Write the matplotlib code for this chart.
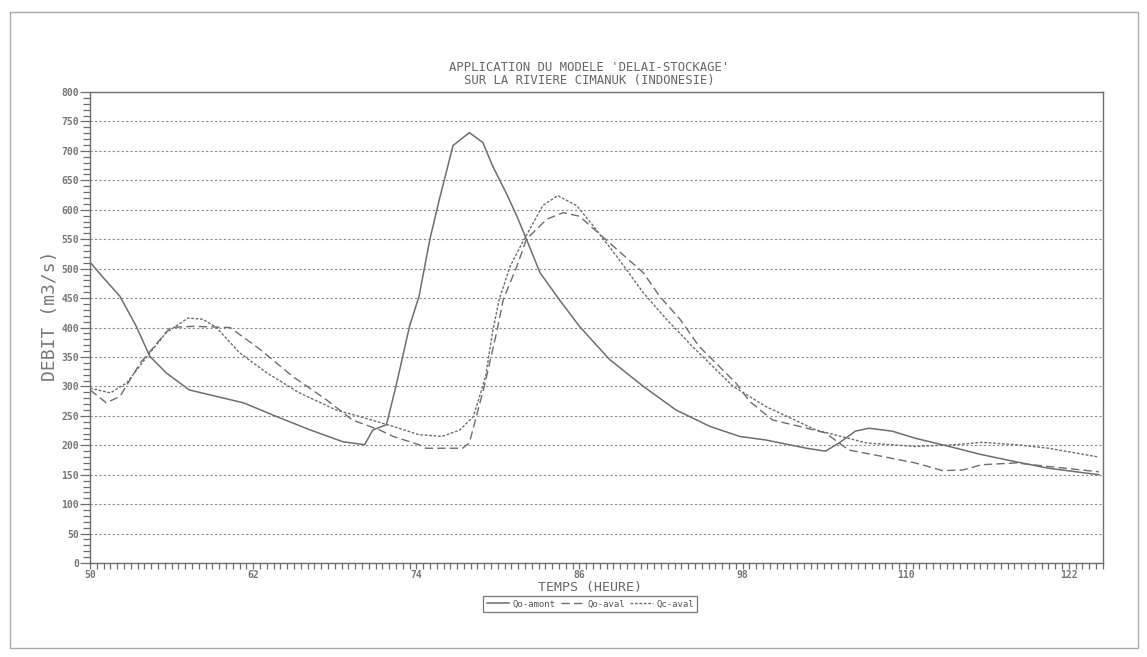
import matplotlib
matplotlib.use('Agg')
import matplotlib.pyplot as plt
from matplotlib.patches import Rectangle
from matplotlib.ticker import MultipleLocator

# heures / debits
heures_amont = [50, 51, 52.2, 53.4, 54.4, 55.6, 57.3, 59.3, 61.3, 63.7, 66.2, 68.6, 70.2, 70.8,
                71.8, 72.5, 73.5, 74.2, 75.0, 75.7, 76.7, 77.9, 78.9, 79.6, 80.6, 81.4, 82.1,
                83.1, 84.5, 86.0, 88.2, 90.7, 93.1, 95.6, 97.8, 99.7, 102.7, 104.1, 105.1,
                106.3, 107.3, 109.0, 110.7, 113.2, 115.6, 118.1, 120.5, 124.2]
qo_amont = [511, 484, 453, 402, 351, 323, 294, 283, 272, 249, 226, 206, 201, 226,
            235, 300, 402, 453, 550, 618, 709, 731, 714, 675, 629, 589, 550,
            493, 448, 402, 346, 300, 260, 232, 215, 209, 195, 190, 204,
            224, 229, 224, 212, 198, 184, 172, 161, 150]

heures_oaval = [50, 51.2, 52.2, 53.7, 55.9, 57.6, 60.3, 62.5, 64.9, 67.4, 69.3, 71.3, 72.3,
                74.2, 74.7, 77.4, 77.9, 79.0, 79.9, 80.4, 81.4, 82.1, 83.6, 84.8, 86.0,
                88.2, 90.7, 91.9, 93.4, 94.8, 97.5, 98.5, 100.2, 102.2, 104.1, 105.8,
                108.3, 110.7, 112.7, 114.2, 115.6, 118.1, 120.5, 124.2]
qo_aval = [294, 272, 283, 340, 400, 402, 400, 363, 317, 277, 243, 226, 215,
           201, 195, 195, 204, 300, 391, 448, 504, 550, 584, 595, 589,
           544, 493, 453, 414, 368, 306, 275, 243, 232, 221, 192,
           181, 170, 157, 158, 167, 170, 164, 155]

heures_caval = [50, 51.5, 52.7, 54.2, 55.6, 57.2, 58.3, 59.3, 61.0, 63.0, 65.4, 68.1, 69.8,
                72.3, 74.2, 75.9, 77.2, 78.2, 79.1, 79.6, 80.1, 80.9, 81.8, 83.3, 84.4,
                85.8, 87.0, 88.9, 90.7, 92.4, 94.3, 97.3, 99.7, 103.4, 107.1, 110.7,
                113.7, 115.6, 118.1, 120.5, 124.2]
qc_aval = [297, 289, 306, 351, 391, 416, 414, 400, 357, 323, 289, 260, 249,
           232, 218, 215, 226, 249, 317, 391, 448, 504, 544, 607, 624,
           607, 573, 516, 459, 414, 368, 300, 266, 226, 204, 198,
           201, 205, 201, 195, 180]

xticks = [50, 62, 74, 86, 98, 110, 122]
yticks = list(range(0, 801, 50))

gris = '#6e6e6e'
mono = 'DejaVu Sans Mono'

fig = plt.figure(figsize=(11.47, 6.57), dpi=100)
ax = fig.add_axes([0.0785, 0.143, 0.883, 0.717])

ax.plot(heures_amont, qo_amont, color=gris, lw=1.1, label='Qo-amont')
ax.plot(heures_oaval, qo_aval, color=gris, lw=1.0, dashes=(6, 3), label='Qo-aval')
ax.plot(heures_caval, qc_aval, color=gris, lw=1.0, dashes=(2, 1.2), label='Qc-aval')

ax.set_xlim(50, 124.5)
ax.set_ylim(0, 800)
ax.set_xticks(xticks)
ax.set_yticks(yticks)
ax.xaxis.set_minor_locator(MultipleLocator(0.5))
ax.yaxis.set_minor_locator(MultipleLocator(10))
ax.tick_params(axis='both', which='both', direction='out', color=gris, labelcolor='#777777',
               labelsize=7, width=0.9)
ax.tick_params(axis='y', which='major', length=7, pad=1)
ax.tick_params(axis='y', which='minor', length=5)
ax.tick_params(axis='x', which='major', length=4.5, pad=0.5)
ax.tick_params(axis='x', which='minor', length=4)
for lab in ax.get_xticklabels() + ax.get_yticklabels():
    lab.set_family(mono)
    lab.set_fontweight('bold')

ax.yaxis.grid(True, which='major', color='#8a8a8a', linestyle=(0, (2, 2)), lw=0.8)
for s in ax.spines.values():
    s.set_color(gris)
    s.set_linewidth(1.0)

fig.text(0.514, 0.887, "APPLICATION DU MODELE 'DELAI-STOCKAGE'\nSUR LA RIVIERE CIMANUK (INDONESIE)",
         ha='center', va='center', family=mono, fontsize=8.8, color='#666666', linespacing=1.0)
fig.text(0.044, 0.52, 'DEBIT (m3/s)', rotation=90, ha='center', va='center',
         family=mono, fontsize=13, color='#777777')
fig.text(0.514, 0.106, 'TEMPS (HEURE)', ha='center', va='center',
         family=mono, fontsize=9.5, color='#666666')

leg = ax.legend(loc='center', bbox_to_anchor=(0.494, -0.087), ncol=3, fancybox=False,
                frameon=True, prop={'family': mono, 'size': 6.5}, handlelength=2.5,
                columnspacing=0.6, handletextpad=0.4, borderpad=0.35)
leg.get_frame().set_edgecolor('#555555')
leg.get_frame().set_linewidth(0.9)
for t in leg.get_texts():
    t.set_color('#555555')

fig.patches.append(Rectangle((0.009, 0.014), 0.983, 0.968, transform=fig.transFigure,
                             fill=False, edgecolor='#aaaaaa', lw=1.0))

fig.savefig('out.png', dpi=100)
